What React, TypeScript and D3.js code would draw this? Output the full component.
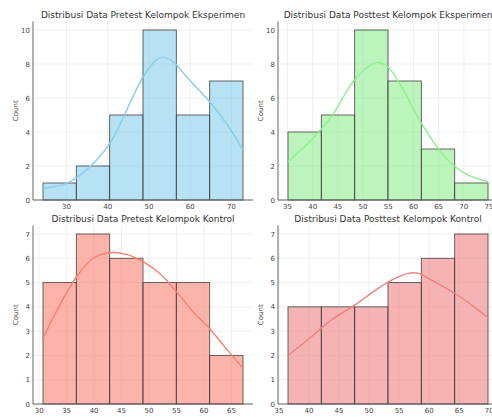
import React from "react";
import * as d3 from "d3";

// ---- Data ----
const titles = [
  "Distribusi Data Pretest Kelompok Eksperimen",
  "Distribusi Data Posttest Kelompok Eksperimen",
  "Distribusi Data Pretest Kelompok Kontrol",
  "Distribusi Data Posttest Kelompok Kontrol",
];

const preEksCounts = [1, 2, 5, 10, 5, 7];
const preEksRange = [24.3, 72.8];
const preEksTicks = [30, 40, 50, 60, 70];
const preEksYTicks = [0, 2, 4, 6, 8, 10];
const preEksKdeX = [24.3, 30, 34.8, 40.5, 46.1, 48.6, 51.8, 53.4, 55.8, 59.1, 64.7, 68.8, 72.8];
const preEksKdeY = [0.69, 0.98, 1.76, 3.33, 6.08, 7.25, 8.24, 8.39, 8.14, 7.25, 5.78, 4.5, 2.94];

const postEksCounts = [4, 5, 10, 7, 3, 1];
const postEksRange = [35.1, 74.8];
const postEksTicks = [35, 40, 45, 50, 55, 60, 65, 70, 75];
const postEksYTicks = [0, 2, 4, 6, 8, 10];
const postEksKdeX = [35.1, 39.7, 43.7, 48.3, 52.6, 54.9, 57.6, 61.6, 66.2, 70.2, 74.8];
const postEksKdeY = [2.25, 3.53, 4.9, 7.06, 8.08, 7.84, 6.67, 4.51, 2.55, 1.57, 1.08];

const preKonCounts = [5, 7, 6, 5, 5, 2];
const preKonRange = [30.7, 67.1];
const preKonTicks = [30, 35, 40, 45, 50, 55, 60, 65];
const preKonYTicks = [0, 1, 2, 3, 4, 5, 6, 7];
const preKonKdeX = [30.7, 33.1, 36.8, 39.8, 42.8, 45.9, 48.9, 51.9, 55.0, 58.0, 61.0, 64.0, 67.1];
const preKonKdeY = [2.7, 3.8, 5.24, 6.0, 6.23, 6.16, 5.86, 5.38, 4.62, 3.8, 3.11, 2.29, 1.47];

const postKonCounts = [4, 4, 4, 5, 6, 7];
const postKonRange = [36.5, 69.8];
const postKonTicks = [35, 40, 45, 50, 55, 60, 65, 70];
const postKonYTicks = [0, 1, 2, 3, 4, 5, 6, 7];
const postKonKdeX = [36.6, 40.4, 43.7, 47.6, 51.5, 54.3, 56.5, 58.2, 60.4, 64.3, 67.1, 69.8];
const postKonKdeY = [2.02, 2.77, 3.46, 4.07, 4.76, 5.17, 5.38, 5.38, 5.1, 4.55, 4.07, 3.55];

const colors = ["#87CEEB", "#90EE90", "#FA8072", "#F08080"];

type PanelDef = {
  title: string;
  counts: number[];
  range: number[];
  ticks: number[];
  yTicks: number[];
  kdeX: number[];
  kdeY: number[];
  color: string;
  x0: number;
  y0: number;
  w: number;
  h: number;
};

const FONT = "DejaVu Sans, sans-serif";

function Panel({ p }: { p: PanelDef }) {
  const [lo, hi] = p.range;
  const pad = (hi - lo) * 0.05;
  const x = d3.scaleLinear().domain([lo - pad, hi + pad]).range([p.x0, p.x0 + p.w]);
  const ymax = d3.max(p.counts)! * 1.05;
  const y = d3.scaleLinear().domain([0, ymax]).range([p.y0 + p.h, p.y0]);
  const n = p.counts.length;
  const bw = (hi - lo) / n;
  const line = d3
    .line<number>()
    .x((_, i) => x(p.kdeX[i]))
    .y((d) => y(d))
    .curve(d3.curveCatmullRom);
  const bottom = p.y0 + p.h;
  return (
    <g>
      {/* grid */}
      {p.ticks.map((t) => (
        <line key={"gx" + t} x1={x(t)} x2={x(t)} y1={p.y0} y2={bottom} stroke="#ebebeb" strokeWidth={0.8} />
      ))}
      {p.yTicks.map((t) => (
        <line key={"gy" + t} x1={p.x0} x2={p.x0 + p.w} y1={y(t)} y2={y(t)} stroke="#ebebeb" strokeWidth={0.8} />
      ))}
      {/* bars */}
      {p.counts.map((c, i) => (
        <rect
          key={"b" + i}
          x={x(lo + i * bw)}
          y={y(c)}
          width={x(lo + (i + 1) * bw) - x(lo + i * bw)}
          height={bottom - y(c)}
          fill={p.color}
          fillOpacity={0.6}
          stroke="#3a3a3a"
          strokeOpacity={0.85}
          strokeWidth={0.9}
        />
      ))}
      {/* kde */}
      <path d={line(p.kdeY) || ""} fill="none" stroke={p.color} strokeWidth={1.4} />
      {/* spines */}
      <line x1={p.x0} x2={p.x0} y1={p.y0} y2={bottom} stroke="#555" strokeWidth={0.9} />
      <line x1={p.x0} x2={p.x0 + p.w} y1={bottom} y2={bottom} stroke="#555" strokeWidth={0.9} />
      {/* tick labels */}
      {p.ticks.map((t) => (
        <text key={"tx" + t} x={x(t)} y={bottom + 9} fontSize={7} fill="#444" textAnchor="middle" fontFamily={FONT}>
          {t}
        </text>
      ))}
      {p.yTicks.map((t) => (
        <text key={"ty" + t} x={p.x0 - 3} y={y(t) + 2.5} fontSize={7} fill="#444" textAnchor="end" fontFamily={FONT}>
          {t}
        </text>
      ))}
      <text
        transform={`translate(${p.x0 - 15},${p.y0 + p.h / 2}) rotate(-90)`}
        fontSize={7}
        fill="#444"
        textAnchor="middle"
        fontFamily={FONT}
      >
        Count
      </text>
      <text x={p.x0 + p.w / 2} y={p.y0 - 4} fontSize={9} fill="#333" textAnchor="middle" fontFamily={FONT}>
        {p.title}
      </text>
    </g>
  );
}

export default function App() {
  const W = 220;
  const panels: PanelDef[] = [
    { title: titles[0], counts: preEksCounts, range: preEksRange, ticks: preEksTicks, yTicks: preEksYTicks, kdeX: preEksKdeX, kdeY: preEksKdeY, color: colors[0], x0: 33, y0: 21.5, w: W, h: 178.5 },
    { title: titles[1], counts: postEksCounts, range: postEksRange, ticks: postEksTicks, yTicks: postEksYTicks, kdeX: postEksKdeX, kdeY: postEksKdeY, color: colors[1], x0: 278, y0: 21.5, w: W, h: 178.5 },
    { title: titles[2], counts: preKonCounts, range: preKonRange, ticks: preKonTicks, yTicks: preKonYTicks, kdeX: preKonKdeX, kdeY: preKonKdeY, color: colors[2], x0: 33, y0: 225.5, w: W, h: 178.5 },
    { title: titles[3], counts: postKonCounts, range: postKonRange, ticks: postKonTicks, yTicks: postKonYTicks, kdeX: postKonKdeX, kdeY: postKonKdeY, color: colors[3], x0: 278, y0: 225.5, w: W, h: 178.5 },
  ];
  return (
    <svg
      width={492}
      height={417}
      style={{ position: "fixed", left: 0, top: 0, background: "#fff" }}
    >
      <rect x={0} y={0} width={492} height={417} fill="#fff" />
      {panels.map((p, i) => (
        <Panel key={i} p={p} />
      ))}
    </svg>
  );
}
